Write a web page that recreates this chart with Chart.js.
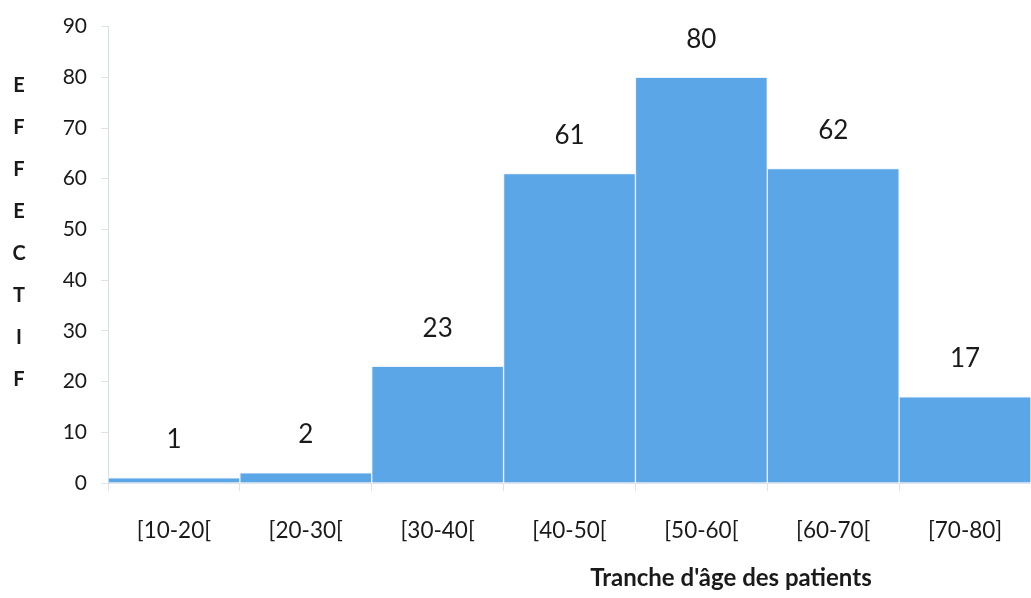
<!DOCTYPE html>
<html>
<head>
<meta charset="utf-8">
<script src="https://cdn.jsdelivr.net/npm/chart.js@4"></script>
<style>
  html, body { margin: 0; padding: 0; background: #ffffff; overflow: hidden; }
  #wrap { width: 1031px; height: 598px; }
</style>
</head>
<body>
<div id="wrap"><canvas id="c" width="1031" height="598"></canvas></div>
<script>
// Age classes of patients and their counts
const categories = ['[10-20[', '[20-30[', '[30-40[', '[40-50[', '[50-60[', '[60-70[', '[70-80]'];
const effectifs = [1, 2, 23, 61, 80, 62, 17];
const yTicks = [0, 10, 20, 30, 40, 50, 60, 70, 80, 90];
const yTitleLetters = ['E', 'F', 'F', 'E', 'C', 'T', 'I', 'F'];
const xTitle = "Tranche d'âge des patients";

const FONT = 'Lato, "Open Sans", sans-serif';
const TEXT = '#1a1a1a';

// Value above each bar
const valueLabels = {
  id: 'valueLabels',
  afterDatasetsDraw(chart) {
    const ctx = chart.ctx;
    const meta = chart.getDatasetMeta(0);
    ctx.save();
    ctx.font = '26px ' + FONT;
    ctx.fillStyle = TEXT;
    ctx.textAlign = 'center';
    ctx.textBaseline = 'middle';
    meta.data.forEach((bar, i) => {
      ctx.fillText(String(effectifs[i]), bar.x, bar.y - 38);
    });
    ctx.restore();
  }
};

// Vertical stacked-letter y title and the x axis title
const axisTitles = {
  id: 'axisTitles',
  afterDraw(chart) {
    const ctx = chart.ctx;
    ctx.save();
    ctx.font = 'bold 20px ' + FONT;
    ctx.fillStyle = TEXT;
    ctx.textAlign = 'center';
    ctx.textBaseline = 'middle';
    yTitleLetters.forEach((ch, i) => {
      ctx.fillText(ch, 19, 86 + i * 42);
    });
    ctx.font = 'bold 24px ' + FONT;
    ctx.fillText(xTitle, 731, 578);
    ctx.restore();
  }
};

new Chart(document.getElementById('c'), {
  type: 'bar',
  data: {
    labels: categories,
    datasets: [{
      data: effectifs,
      backgroundColor: '#5ba6e7',
      borderColor: '#eaf3fb',
      borderWidth: 1,
      barPercentage: 1.0,
      categoryPercentage: 1.0
    }]
  },
  options: {
    responsive: false,
    animation: false,
    layout: { padding: { top: 24, right: 0, bottom: 0, left: 0 } },
    plugins: {
      legend: { display: false },
      tooltip: { enabled: false }
    },
    scales: {
      x: {
        grid: {
          drawOnChartArea: false,
          drawTicks: true,
          tickLength: 8,
          color: '#dfe4e7',
          offset: true
        },
        border: { color: '#dfe4e7', width: 1 },
        ticks: {
          color: TEXT,
          font: { family: FONT, size: 22.5 },
          padding: 26,
          maxRotation: 0
        },
        afterFit(scale) { scale.height = 115; }
      },
      y: {
        min: 0,
        max: 90,
        afterBuildTicks(scale) {
          scale.ticks = yTicks.map(v => ({ value: v }));
        },
        grid: {
          drawOnChartArea: false,
          drawTicks: true,
          tickLength: 7,
          color: '#dfe4e7'
        },
        border: { color: '#d6dfe3', width: 1 },
        ticks: {
          color: TEXT,
          font: { family: FONT, size: 21 },
          padding: 14
        },
        afterFit(scale) { scale.width = 108; }
      }
    }
  },
  plugins: [valueLabels, axisTitles]
});
</script>
</body>
</html>
